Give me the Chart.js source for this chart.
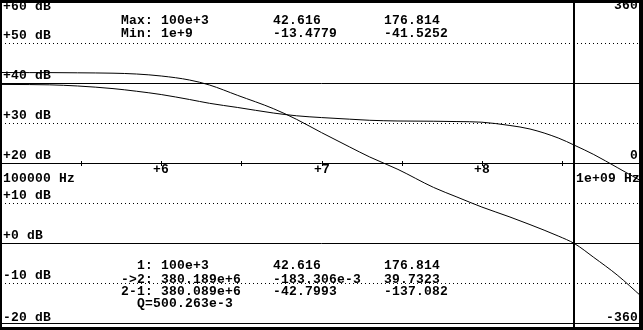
<!DOCTYPE html>
<html>
<head>
<meta charset="utf-8">
<script src="https://cdn.jsdelivr.net/npm/chart.js@4.4.1/dist/chart.umd.min.js"></script>
<style>
  html, body { margin: 0; padding: 0; background: #fff; }
  #wrap { width: 643px; height: 330px; }
</style>
</head>
<body>
<div id="wrap"><canvas id="bode" width="643" height="330"></canvas></div>
<script>
// sweep points (Hz) with gain (dB) and phase (deg)
const freqHz = [1e5, 1.5e5, 2e5, 3e5, 5e5, 7e5, 1e6, 1.5e6, 2e6, 3e6, 5e6, 7e6, 1e7,
  1.5e7, 2e7, 3e7, 5e7, 7e7, 1e8, 1.5e8, 2e8, 3e8, 3.80189e8, 5e8, 7e8, 1e9];
const magDb = [42.62, 42.6, 42.6, 42.55, 42.45, 42.25, 41.75, 40.75, 39.5, 36.9, 33.6, 30.9, 27.6,
  24.0, 21.5, 18.4, 13.9, 11.5, 9.0, 6.5, 4.6, 1.75, -0.18, -3.6, -8.0, -13.48];
const phaseDeg = [176.8, 176.5, 175.9, 173.3, 167.4, 161.5, 154, 142.9, 134.3, 124.9, 112.5, 106.2, 102.2,
  98.6, 96.1, 94.5, 94, 93.2, 91.8, 84.4, 76.5, 56.3, 39.7, 19.1, -10.1, -41.5];

const dbTicks = [60, 50, 40, 30, 20, 10, 0, -10, -20];
const dottedDb = [50, 30, 10, -10];
const solidPhase = [180, -180];
const phaseLabels = [360, 0, -360];
const decades = [1e6, 1e7, 1e8];
const decadeLabels = ["+6", "+7", "+8"];
const halfDecades = [3.1623e5, 1e6, 3.1623e6, 1e7, 3.1623e7, 1e8, 3.1623e8];
const cursorHz = [1e5, 3.80189e8];

// readout text
const topRows = [
  ["Max:", "100e+3", "42.616", "176.814"],
  ["Min:", "1e+9", "-13.4779", "-41.5252"]
];
const bottomRows = [
  ["1:", "100e+3", "42.616", "176.814"],
  ["->2:", "380.189e+6", "-183.306e-3", "39.7323"],
  ["2-1:", "380.089e+6", "-42.7993", "-137.082"]
];
const qText = "Q=500.263e-3";

const CW = 8; // character cell width
function mono(ctx, s, x, y) {
  for (let i = 0; i < s.length; i++) ctx.fillText(s[i], x + i * CW, y);
}
function monoRight(ctx, s, right, y) {
  mono(ctx, s, right - s.length * CW, y);
}

const bodePlot = {
  id: "bodePlot",
  beforeDatasetsDraw(chart) {
    const { ctx, chartArea: a, scales } = chart;
    const x = scales.x, y = scales.y, yp = scales.y2;
    ctx.save();
    ctx.strokeStyle = "#000";
    ctx.lineWidth = 1;
    // dotted dB grid
    ctx.setLineDash([1, 3]);
    dottedDb.forEach(v => {
      const py = Math.round(y.getPixelForValue(v)) + 0.5;
      ctx.beginPath(); ctx.moveTo(a.left, py); ctx.lineTo(a.right, py); ctx.stroke();
    });
    ctx.setLineDash([]);
    // solid phase lines and axis
    solidPhase.concat([0]).forEach(v => {
      const py = Math.round(yp.getPixelForValue(v)) + 0.5;
      ctx.beginPath(); ctx.moveTo(0, py); ctx.lineTo(643, py); ctx.stroke();
    });
    const axisY = Math.round(yp.getPixelForValue(0));
    halfDecades.forEach(f => {
      const px = Math.round(x.getPixelForValue(f)) + 0.5;
      ctx.beginPath(); ctx.moveTo(px, axisY - 2); ctx.lineTo(px, axisY + 3); ctx.stroke();
    });
    // cursors
    ctx.lineWidth = 2;
    cursorHz.forEach(f => {
      const px = Math.round(x.getPixelForValue(f)) - 1;
      ctx.beginPath(); ctx.moveTo(px, 0); ctx.lineTo(px, 330); ctx.stroke();
    });
    ctx.restore();
  },
  afterDatasetsDraw(chart) {
    const { ctx, scales } = chart;
    const x = scales.x, y = scales.y, yp = scales.y2;
    ctx.save();
    ctx.fillStyle = "#000";
    ctx.font = "bold 13px 'Liberation Mono'";
    ctx.textBaseline = "alphabetic";
    ctx.textAlign = "left";

    // dB labels on the left
    dbTicks.forEach(v => {
      let by = Math.round(y.getPixelForValue(v)) - 4;
      if (v === 60) by = 10;
      if (v === -20) by = 321;
      mono(ctx, (v >= 0 ? "+" : "") + v + " dB", 3, by);
    });
    // phase labels on the right
    phaseLabels.forEach(v => {
      let by = Math.round(yp.getPixelForValue(v)) - 4;
      if (v === 360) by = 9;
      if (v === -360) by = 321;
      monoRight(ctx, String(v), 638, by);
    });
    // frequency axis
    const axisY = Math.round(yp.getPixelForValue(0));
    decades.forEach((f, i) => {
      const px = x.getPixelForValue(f);
      mono(ctx, decadeLabels[i], Math.round(px) - 8, axisY + 10);
    });
    mono(ctx, "100000 Hz", 3, axisY + 19);
    monoRight(ctx, "1e+09 Hz", 640, axisY + 19);

    // readouts
    const cols = [153, 161, 273, 384];
    const drawRow = (r, by) => {
      monoRight(ctx, r[0], cols[0], by);
      mono(ctx, r[1], cols[1], by);
      mono(ctx, r[2], cols[2], by);
      mono(ctx, r[3], cols[3], by);
    };
    drawRow(topRows[0], 24);
    drawRow(topRows[1], 37);
    drawRow(bottomRows[0], 269);
    drawRow(bottomRows[1], 283);
    drawRow(bottomRows[2], 295);
    mono(ctx, qText, 137, 307);

    // frame
    ctx.fillRect(0, 0, 643, 3);
    ctx.fillRect(0, 0, 2, 330);
    ctx.fillRect(639, 0, 4, 330);
    ctx.fillRect(0, 323, 643, 1);
    ctx.fillRect(0, 327, 643, 3);
    ctx.restore();
  }
};

new Chart(document.getElementById("bode"), {
  type: "line",
  data: {
    datasets: [
      {
        label: "Gain",
        data: freqHz.map((f, i) => ({ x: f, y: magDb[i] })),
        yAxisID: "y",
        borderColor: "#000",
        borderWidth: 1,
        pointRadius: 0,
        cubicInterpolationMode: "monotone"
      },
      {
        label: "Phase",
        data: freqHz.map((f, i) => ({ x: f, y: phaseDeg[i] })),
        yAxisID: "y2",
        borderColor: "#000",
        borderWidth: 1,
        pointRadius: 0,
        cubicInterpolationMode: "monotone"
      }
    ]
  },
  options: {
    responsive: false,
    animation: false,
    layout: { padding: { left: 1, right: 1, top: 3, bottom: 7 } },
    plugins: { legend: { display: false }, tooltip: { enabled: false } },
    scales: {
      x: { type: "logarithmic", min: 1e5, max: 1e9, display: false },
      y: { type: "linear", min: -20, max: 60, display: false },
      y2: { type: "linear", min: -360, max: 360, display: false }
    }
  },
  plugins: [bodePlot]
});
</script>
</body>
</html>
